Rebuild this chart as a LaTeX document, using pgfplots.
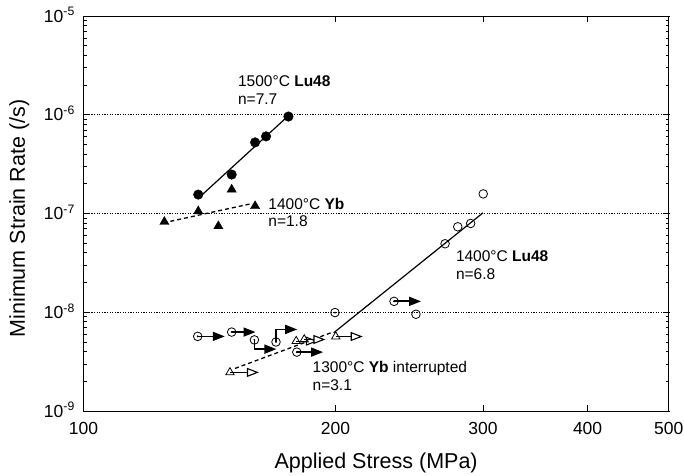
\documentclass[border=0pt]{standalone}
\usepackage{fontspec}
\setmainfont{Liberation Sans}
\usepackage{pgfplots}
\pgfplotsset{compat=1.18}
\usetikzlibrary{arrows.meta}
\begin{document}
\begin{tikzpicture}
\begin{axis}[
  at={(83.5pt,64pt)}, anchor=south west,
  scale only axis, width=585.2pt, height=395pt,
  xmode=log, ymode=log,
  xmin=100, xmax=500, ymin=1e-9, ymax=1e-5,
  xtick={100,200,300,400,500},
  xticklabels={100,200,300,400,500},
  minor xtick={},
  ytick={1e-9,1e-8,1e-7,1e-6,1e-5},
  yticklabels={10\textsuperscript{-9},10\textsuperscript{-8},10\textsuperscript{-7},10\textsuperscript{-6},10\textsuperscript{-5}},
  minor ytick={2e-9,3e-9,4e-9,5e-9,6e-9,7e-9,8e-9,9e-9,
               2e-8,3e-8,4e-8,5e-8,6e-8,7e-8,8e-8,9e-8,
               2e-7,3e-7,4e-7,5e-7,6e-7,7e-7,8e-7,9e-7,
               2e-6,3e-6,4e-6,5e-6,6e-6,7e-6,8e-6,9e-6},
  major tick length=6pt, minor tick length=3pt,
  tick style={black, line width=0.8pt},
  axis line style={black, line width=0.9pt},
  ymajorgrids,
  major grid style={black, line width=0.8pt, dash pattern=on 1.3pt off 1.3pt},
  xticklabel style={font=\fontsize{17.5}{18}\selectfont, anchor=base, inner sep=0pt, yshift=-23pt},
  yticklabel style={font=\fontsize{17.5}{18}\selectfont, anchor=base east, inner sep=0pt, xshift=-8.5pt, yshift=-6.2pt},
  xlabel={Applied Stress (MPa)},
  ylabel={Minimum Strain Rate (/s)},
  every axis x label/.style={at={(axis description cs:0.5,-0.1443)}, anchor=base, font=\fontsize{21.5}{22}\selectfont},
  every axis y label/.style={at={(axis description cs:-0.1,0.4873)}, rotate=90, anchor=base, font=\fontsize{21.5}{22}\selectfont},
  clip=false,
]
% ---- fit lines
\addplot[black, line width=1.2pt] coordinates {(138,1.50e-7) (175.3,9.6e-7)};
\addplot[black, line width=1.3pt, dash pattern=on 4pt off 3pt] coordinates {(124.6,8.05e-8) (158.8,1.26e-7)};
\addplot[black, line width=1.2pt] coordinates {(199,6.2e-9) (300,1.016e-7)};
\addplot[black, line width=1.3pt, dash pattern=on 4pt off 3pt] coordinates {(151.7,2.70e-9) (198.8,6.33e-9)};
% ---- filled arrows (interrupted Lu48)
\addplot[black, line width=1.7pt, -{Triangle[length=12pt,width=9pt]}] coordinates {(136.9,5.7e-9) (147.5,5.7e-9)};
\addplot[black, line width=1.7pt, -{Triangle[length=12pt,width=9pt]}] coordinates {(150.3,6.3e-9) (160.5,6.3e-9)};
\addplot[black, line width=1.7pt, -{Triangle[length=12pt,width=9pt]}] coordinates {(160,5.25e-9) (160,4.23e-9) (170,4.23e-9)};
\addplot[black, line width=1.7pt, -{Triangle[length=12pt,width=9pt]}] coordinates {(169.8,5.0e-9) (169.8,6.7e-9) (180,6.7e-9)};
\addplot[black, line width=1.7pt, -{Triangle[length=12pt,width=9pt]}] coordinates {(179.8,3.95e-9) (193.3,3.95e-9)};
\addplot[black, line width=1.7pt, -{Triangle[length=12pt,width=9pt]}] coordinates {(234.9,1.29e-8) (253,1.29e-8)};
% ---- open arrows (interrupted Yb)
\addplot[black, line width=1.1pt, -{Triangle[open,length=12pt,width=9pt,fill=white]}] coordinates {(149.6,2.46e-9) (162,2.46e-9)};
\addplot[black, line width=1.1pt, -{Triangle[open,length=12pt,width=9pt,fill=white]}] coordinates {(179.5,5.1e-9) (190.5,5.1e-9)};
\addplot[black, line width=1.1pt, -{Triangle[open,length=12pt,width=9pt,fill=white]}] coordinates {(183.5,5.3e-9) (194.5,5.3e-9)};
\addplot[black, line width=1.1pt, -{Triangle[open,length=12pt,width=9pt,fill=white]}] coordinates {(200.1,5.68e-9) (215.5,5.68e-9)};
% ---- 1500C Lu48 filled circles
\addplot[only marks, mark=*, mark size=4.8pt, mark options={fill=black, draw=black}] coordinates {
(137.1,1.556e-7) (150.3,2.48e-7) (160.3,5.25e-7) (165.2,6.04e-7) (175.7,9.6e-7)};
% ---- 1400C Yb filled triangles
\addplot[only marks, mark=triangle*, mark size=5.3pt, mark options={fill=black, draw=black}] coordinates {
(124.9,8.24e-8) (137.1,1.055e-7) (150.3,1.75e-7) (144.9,7.45e-8) (160.3,1.19e-7)};
% ---- 1400C Lu48 open circles
\addplot[only marks, mark=o, mark size=4.3pt, mark options={draw=black, fill=white, line width=0.8pt}] coordinates {
(300.2,1.58e-7) (279.9,7.34e-8) (290.0,7.93e-8) (270.3,4.94e-8) (249.5,9.55e-9) (199.7,9.93e-9)
(234.9,1.29e-8) (136.9,5.7e-9) (150.3,6.3e-9) (160,5.25e-9) (169.8,5.0e-9) (179.8,3.95e-9)};
\addplot[only marks, mark=*, mark size=0.7pt, mark options={fill=black, draw=black}] coordinates {
(199.7,9.93e-9) (234.9,1.29e-8) (136.9,5.7e-9) (150.3,6.3e-9) (160,5.25e-9) (169.8,5.0e-9) (179.8,3.95e-9)};
% ---- 1300C Yb open triangles
\addplot[only marks, mark=triangle, mark size=4.8pt, mark options={draw=black, fill=white, line width=0.8pt}] coordinates {
(149.6,2.46e-9) (179.5,5.1e-9) (183.5,5.3e-9) (200.1,5.68e-9)};
% ---- annotations
\node[anchor=base west, inner sep=0pt, font=\fontsize{15.5}{16}\selectfont] at (axis cs:152.9,1.93e-6) {1500°C \textbf{Lu48}};
\node[anchor=base west, inner sep=0pt, font=\fontsize{15.5}{16}\selectfont] at (axis cs:152.9,1.26e-6) {n=7.7};
\node[anchor=base west, inner sep=0pt, font=\fontsize{15.5}{16}\selectfont] at (axis cs:166.2,1.096e-7) {1400°C \textbf{Yb}};
\node[anchor=base west, inner sep=0pt, font=\fontsize{15.5}{16}\selectfont] at (axis cs:166.2,7.45e-8) {n=1.8};
\node[anchor=base west, inner sep=0pt, font=\fontsize{15.5}{16}\selectfont] at (axis cs:278.4,3.25e-8) {1400°C \textbf{Lu48}};
\node[anchor=base west, inner sep=0pt, font=\fontsize{15.5}{16}\selectfont] at (axis cs:278.4,2.16e-8) {n=6.8};
\node[anchor=base west, inner sep=0pt, font=\fontsize{15.5}{16}\selectfont] at (axis cs:187.7,2.48e-9) {1300°C \textbf{Yb} interrupted};
\node[anchor=base west, inner sep=0pt, font=\fontsize{15.5}{16}\selectfont] at (axis cs:187.7,1.63e-9) {n=3.1};
\end{axis}
\pgfresetboundingbox
\path[use as bounding box] (0,0) rectangle (684pt,475pt);
\end{tikzpicture}
\end{document}
